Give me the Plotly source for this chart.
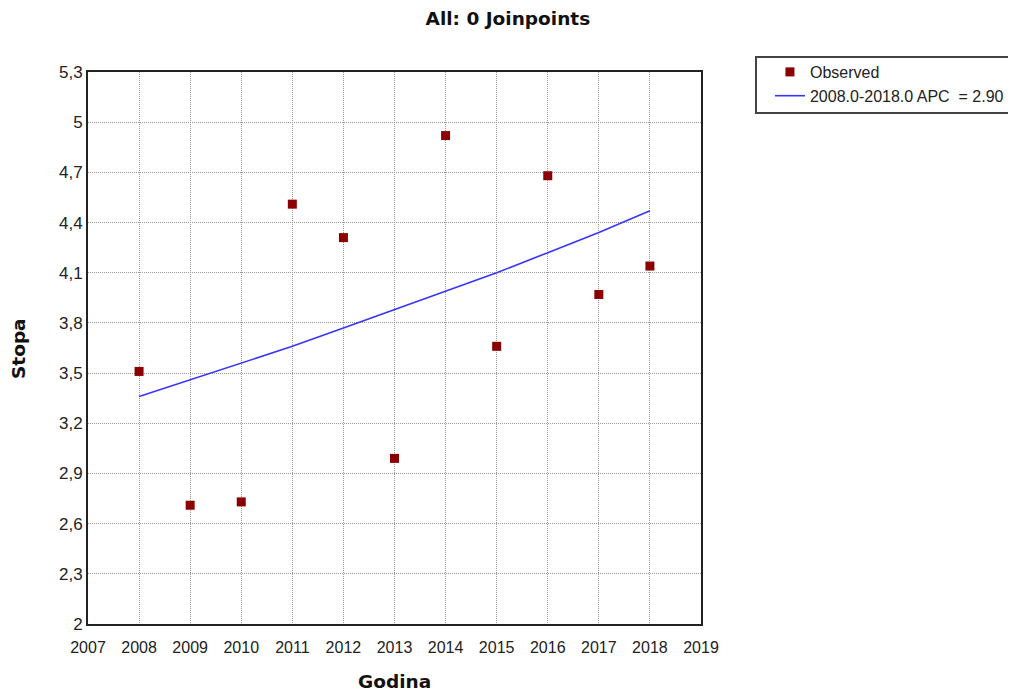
import plotly.graph_objects as go

# Observed rates by year
years = [2008, 2009, 2010, 2011, 2012, 2013, 2014, 2015, 2016, 2017, 2018]
observed = [3.51, 2.71, 2.73, 4.51, 4.31, 2.99, 4.92, 3.66, 4.68, 3.97, 4.14]

# Joinpoint fitted values (APC = 2.90)
fitted = [3.36, 3.46, 3.56, 3.66, 3.77, 3.88, 3.99, 4.10, 4.22, 4.34, 4.47]

y_ticks = [2.0, 2.3, 2.6, 2.9, 3.2, 3.5, 3.8, 4.1, 4.4, 4.7, 5.0, 5.3]
y_labels = ["2", "2,3", "2,6", "2,9", "3,2", "3,5", "3,8", "4,1", "4,4", "4,7", "5", "5,3"]
x_ticks = list(range(2007, 2020))

bold_font = dict(family="DejaVu Sans, Verdana, sans-serif", size=18.5, color="#111")

fig = go.Figure()

fig.add_trace(go.Scatter(
    x=years,
    y=observed,
    mode="markers",
    name="Observed",
    marker=dict(symbol="square", size=9, color="#8B0000"),
))

fig.add_trace(go.Scatter(
    x=years,
    y=fitted,
    mode="lines",
    name="2008.0-2018.0 APC  = 2.90",
    line=dict(color="#3535ff", width=1.6),
))

fig.update_layout(
    width=1016,
    height=691,
    paper_bgcolor="white",
    plot_bgcolor="white",
    margin=dict(l=80, r=323, t=64, b=75),
    font=dict(family="Liberation Sans, Arial, sans-serif", size=15, color="#222"),
    title=dict(
        text="<b>All: 0 Joinpoints</b>",
        x=0.492,
        xref="container",
        xanchor="center",
        y=0.9855,
        yref="container",
        yanchor="middle",
        font=bold_font,
    ),
    showlegend=True,
    legend=dict(
        x=1.1125,
        y=1.0308,
        xanchor="left",
        yanchor="top",
        bgcolor="rgba(0,0,0,0)",
        borderwidth=0,
        font=dict(family="Liberation Sans, Arial, sans-serif", size=16, color="#222"),
        tracegroupgap=0,
    ),
    shapes=[
        dict(
            type="rect",
            xref="paper",
            yref="paper",
            x0=1.0897,
            x1=1.56,
            y0=0.9257,
            y1=1.0272,
            line=dict(color="#444", width=2),
            fillcolor="rgba(0,0,0,0)",
        )
    ],
    annotations=[
        dict(
            text="<b>Godina</b>",
            xref="paper",
            yref="paper",
            x=0.5,
            y=-0.1033,
            xanchor="center",
            yanchor="middle",
            showarrow=False,
            font=bold_font,
        ),
        dict(
            text="<b>Stopa</b>",
            xref="paper",
            yref="paper",
            x=-0.1142,
            y=0.5,
            xanchor="center",
            yanchor="middle",
            textangle=-90,
            showarrow=False,
            font=bold_font,
        ),
    ],
)

fig.update_xaxes(
    range=[2007, 2019],
    tickvals=x_ticks,
    ticktext=[str(t) for t in x_ticks],
    tickfont=dict(size=16),
    ticklabelstandoff=8,
    showgrid=True,
    gridcolor="#999",
    griddash="1px,1px",
    gridwidth=1,
    showline=True,
    linecolor="#222",
    linewidth=2,
    mirror=True,
    zeroline=False,
    ticks="",
)

fig.update_yaxes(
    range=[2.0, 5.3],
    tickvals=y_ticks,
    ticktext=y_labels,
    tickfont=dict(size=17),
    showgrid=True,
    gridcolor="#999",
    griddash="1px,1px",
    gridwidth=1,
    showline=True,
    linecolor="#222",
    linewidth=2,
    mirror=True,
    zeroline=False,
    ticks="",
)

fig.write_html("out.html")
